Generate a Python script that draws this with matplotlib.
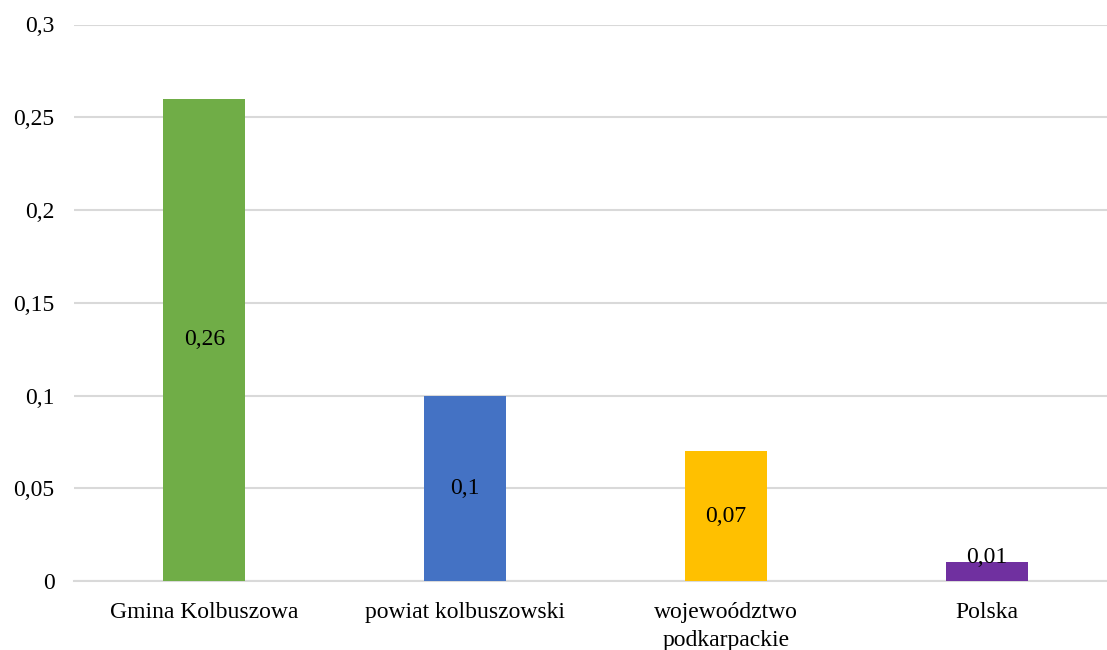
import matplotlib.pyplot as plt
from matplotlib.ticker import FuncFormatter

categories = ['Gmina Kolbuszowa', 'powiat kolbuszowski', 'wojewoództwo\npodkarpackie', 'Polska']
values = [0.26, 0.10, 0.07, 0.01]
colors = ['#70AD47', '#4472C4', '#FFC000', '#7030A0']
yticks = [0, 0.05, 0.1, 0.15, 0.2, 0.25, 0.3]

plt.rcParams['font.family'] = ['Liberation Serif', 'DejaVu Serif']
plt.rcParams['font.size'] = 17

fig = plt.figure(figsize=(11.07, 6.5), dpi=100)
ax = fig.add_axes([74 / 1107, 1 - 581 / 650, 1043 / 1107, (581 - 24.5) / 650])

x = range(len(categories))
ax.bar(x, values, width=0.315, color=colors, zorder=3)

# value labels in the middle of each bar (tiny bar gets its label lifted a bit)
for i, v in enumerate(values):
    ax.text(i, max(v / 2, 0.0128), f'{v:g}'.replace('.', ','),
            ha='center', va='center', color='#000000', zorder=4)

ax.set_xlim(-0.5, 3.5)
ax.set_ylim(0, 0.3)
ax.set_yticks(yticks)
ax.yaxis.set_major_formatter(FuncFormatter(lambda v, p: f'{v:g}'.replace('.', ',')))
ax.set_xticks(list(x))
ax.set_xticklabels(categories, linespacing=1.45)
ax.tick_params(axis='both', length=0, colors='#000000')
ax.tick_params(axis='y', pad=14)
ax.tick_params(axis='x', pad=15)

ax.grid(axis='y', color='#D9D9D9', linewidth=1.5, zorder=0)
for side in ['left', 'right', 'top']:
    ax.spines[side].set_visible(False)
ax.spines['bottom'].set_color('#D9D9D9')
ax.spines['bottom'].set_linewidth(1.5)

fig.savefig('out.png', dpi=100)
